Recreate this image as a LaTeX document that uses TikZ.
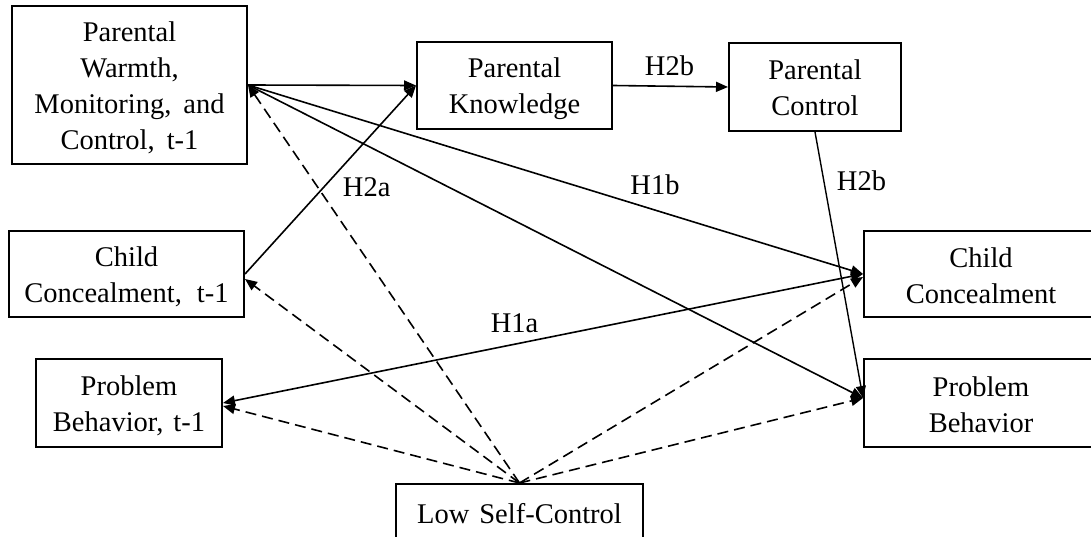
\documentclass[tikz,border=0pt]{standalone}
\usepackage{fontspec}
\setmainfont{Liberation Serif}
\usetikzlibrary{arrows.meta,calc}
\newcommand{\ls}{\rule[-4pt]{0pt}{30pt}}
\begin{document}
\begin{tikzpicture}[x=1pt,y=-1pt,
  >={Triangle[length=12pt,width=10pt]},
  box/.style={draw,line width=2pt,inner sep=0pt,align=center,font=\fontsize{28.5pt}{36pt}\selectfont},
  conn/.style={line width=1.6pt,->},
  bconn/.style={line width=1.6pt,<->},
  dconn/.style={line width=1.6pt,->,dash pattern=on 11pt off 6pt},
  lbl/.style={inner sep=0pt,font=\fontsize{28.5pt}{36pt}\selectfont}]
\useasboundingbox (0,0) rectangle (1091,537);
\clip (0,0) rectangle (1091,537);
% boxes
\node[box,minimum width=235pt,minimum height=158pt] (b1) at (129.5,85)
  {\ls Parental\\\ls Warmth,\\\ls Monitoring,\hspace{12pt}and\\\ls Control,\hspace{12pt}t-1};
\node[box,minimum width=195pt,minimum height=87pt] (pk) at (514.5,85.5)
  {\ls Parental\\\ls Knowledge};
\node[box,minimum width=172pt,minimum height=88pt] (pc) at (815,87)
  {\ls Parental\\\ls Control};
\node[box,minimum width=235pt,minimum height=86pt] (cct) at (126.5,274)
  {\ls Child\\\ls Concealment,\hspace{15pt}t-1};
\node[box,minimum width=186pt,minimum height=88pt] (pbt) at (129,403)
  {\ls Problem\\\ls Behavior,\hspace{10pt}t-1};
\node[box,minimum width=234pt,minimum height=86pt] (cc) at (981,274)
  {\ls Child\\\ls Concealment};
\node[box,minimum width=234pt,minimum height=88pt] (pb) at (981,403)
  {\ls Problem\\\ls Behavior};
\node[box,minimum width=247pt,minimum height=56pt] (low) at (519.5,512)
  {\ls Low\hspace{10pt}Self-Control};
% anchor points
\coordinate (pbin) at ($(pb.west)+(0,-5)$);
\coordinate (cctd) at ($(cct.east)+(0,5)$);
\coordinate (pbtd) at ($(pbt.east)+(0,3)$);
\coordinate (ccd) at ($(cc.west)+(0,3)$);
% solid connectors
\draw[conn] (b1.east) -- (pk.west);
\draw[conn] (pk.east) -- (pc.west);
\draw[conn] (cct.east) -- (pk.west);
\draw[conn] (b1.east) -- (cc.west);
\draw[conn] (b1.east) -- (pbin);
\draw[conn,line width=1.4pt] (pc.south) -- (pbin);
\draw[bconn] (cc.west) -- (pbt.east);
% dashed connectors
\draw[dconn] (low.north) -- (b1.east);
\draw[dconn] (low.north) -- (cctd);
\draw[dconn] (low.north) -- (pbtd);
\draw[dconn] (low.north) -- (ccd);
\draw[dconn] (low.north) -- (pbin);
% labels
\node[lbl] (l1) at (669.5,65.3) {H2b};
\node[lbl] (l2) at (861.5,180.3) {H2b};
\node[lbl] (l3) at (366.7,187) {H2a};
\node[lbl] (l4) at (655,184.6) {H1b};
\node[lbl] (l5) at (514.5,323) {H1a};
\end{tikzpicture}
\end{document}
